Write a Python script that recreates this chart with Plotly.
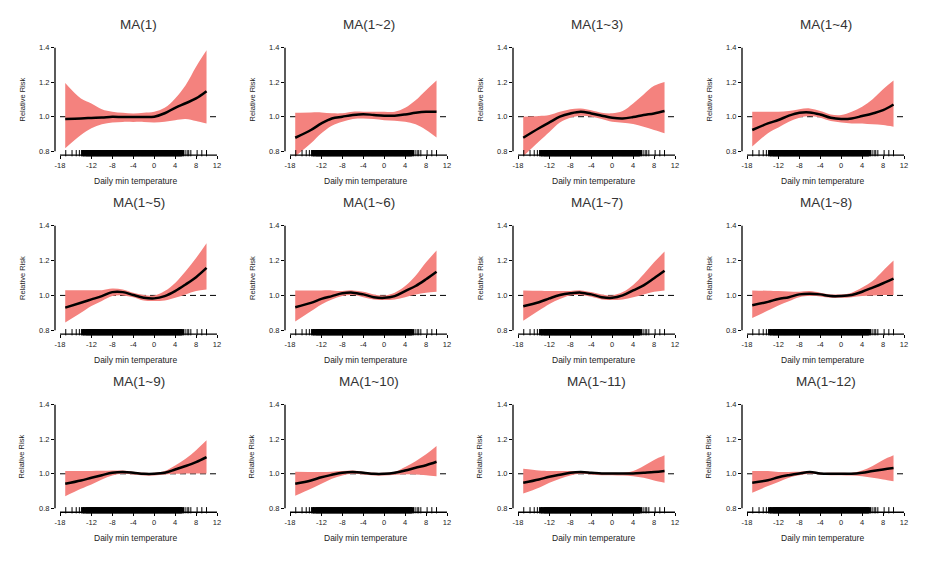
import plotly.graph_objects as go

# ---------------- data ----------------
TEMP = [-17, -14, -12, -10, -8, -6, -4, -2, 0, 2, 4, 6, 8, 10]

TITLES = ["MA(1)", "MA(1~2)", "MA(1~3)", "MA(1~4)",
          "MA(1~5)", "MA(1~6)", "MA(1~7)", "MA(1~8)",
          "MA(1~9)", "MA(1~10)", "MA(1~11)", "MA(1~12)"]

X_TICKS = [-18, -12, -8, -4, 0, 4, 8, 12]
X_TICK_TEXT = ["-18", "-12", "-8", "-4", "0", "4", "8", "12"]
Y_TICKS = [0.8, 1.0, 1.2, 1.4]
Y_TICK_TEXT = ["0.8", "1.0", "1.2", "1.4"]

rr_ma1 = [0.987, 0.990, 0.993, 0.995, 1.000, 0.998, 0.998, 0.998, 1.000, 1.020, 1.052, 1.078, 1.106, 1.148]
hi_ma1 = [1.196, 1.106, 1.077, 1.044, 1.029, 1.023, 1.019, 1.023, 1.029, 1.052, 1.106, 1.183, 1.290, 1.385]
lo_ma1 = [0.817, 0.894, 0.933, 0.956, 0.967, 0.970, 0.970, 0.970, 0.967, 0.971, 0.980, 0.987, 0.975, 0.960]

rr_ma2 = [0.878, 0.923, 0.961, 0.990, 1.000, 1.010, 1.015, 1.010, 1.006, 1.006, 1.013, 1.023, 1.029, 1.029]
hi_ma2 = [1.023, 1.025, 1.025, 1.020, 1.020, 1.029, 1.029, 1.029, 1.029, 1.029, 1.052, 1.096, 1.154, 1.210]
lo_ma2 = [0.770, 0.846, 0.904, 0.948, 0.971, 0.987, 0.990, 0.987, 0.980, 0.977, 0.971, 0.956, 0.923, 0.879]

rr_ma3 = [0.878, 0.933, 0.967, 1.000, 1.019, 1.029, 1.019, 1.006, 0.994, 0.990, 0.998, 1.010, 1.019, 1.033]
hi_ma3 = [1.000, 1.004, 1.010, 1.029, 1.044, 1.048, 1.038, 1.023, 1.020, 1.033, 1.077, 1.129, 1.179, 1.202]
lo_ma3 = [0.770, 0.856, 0.912, 0.967, 0.994, 1.006, 1.000, 0.987, 0.971, 0.965, 0.958, 0.942, 0.923, 0.904]

rr_ma4 = [0.923, 0.961, 0.981, 1.006, 1.023, 1.025, 1.013, 0.994, 0.987, 0.990, 1.004, 1.019, 1.038, 1.071]
hi_ma4 = [1.029, 1.029, 1.029, 1.033, 1.044, 1.048, 1.033, 1.013, 1.010, 1.029, 1.058, 1.102, 1.160, 1.210]
lo_ma4 = [0.827, 0.904, 0.937, 0.971, 0.994, 1.004, 0.994, 0.975, 0.967, 0.961, 0.961, 0.956, 0.952, 0.942]

rr_ma5 = [0.930, 0.958, 0.977, 0.996, 1.019, 1.019, 1.002, 0.987, 0.983, 0.996, 1.025, 1.063, 1.105, 1.158]
hi_ma5 = [1.030, 1.030, 1.030, 1.030, 1.040, 1.034, 1.015, 1.002, 1.000, 1.025, 1.072, 1.139, 1.215, 1.300]
lo_ma5 = [0.844, 0.900, 0.939, 0.968, 0.996, 1.000, 0.990, 0.971, 0.968, 0.971, 0.987, 1.006, 1.025, 1.034]

rr_ma6 = [0.932, 0.957, 0.980, 0.996, 1.012, 1.016, 1.006, 0.990, 0.986, 0.996, 1.025, 1.054, 1.093, 1.136]
hi_ma6 = [1.029, 1.029, 1.029, 1.029, 1.025, 1.029, 1.021, 1.006, 1.000, 1.016, 1.054, 1.113, 1.190, 1.258]
lo_ma6 = [0.850, 0.909, 0.948, 0.977, 0.996, 1.002, 0.990, 0.977, 0.973, 0.977, 0.990, 1.006, 1.016, 1.021]

rr_ma7 = [0.938, 0.961, 0.983, 1.002, 1.012, 1.016, 1.006, 0.990, 0.986, 1.000, 1.029, 1.058, 1.099, 1.142]
hi_ma7 = [1.029, 1.027, 1.025, 1.025, 1.025, 1.029, 1.019, 1.006, 1.000, 1.019, 1.060, 1.122, 1.190, 1.252]
lo_ma7 = [0.854, 0.913, 0.951, 0.980, 1.000, 1.002, 0.992, 0.977, 0.973, 0.977, 0.990, 1.006, 1.021, 1.029]

rr_ma8 = [0.944, 0.963, 0.980, 0.990, 1.006, 1.010, 1.006, 0.996, 0.996, 1.002, 1.021, 1.045, 1.070, 1.097]
hi_ma8 = [1.029, 1.027, 1.025, 1.023, 1.021, 1.025, 1.016, 1.006, 1.006, 1.016, 1.045, 1.083, 1.142, 1.200]
lo_ma8 = [0.870, 0.913, 0.942, 0.967, 0.990, 0.996, 0.994, 0.986, 0.986, 0.990, 0.996, 1.000, 1.002, 1.002]

rr_ma9 = [0.942, 0.961, 0.977, 0.992, 1.006, 1.010, 1.006, 1.000, 1.000, 1.006, 1.025, 1.045, 1.068, 1.097]
hi_ma9 = [1.016, 1.016, 1.016, 1.017, 1.019, 1.019, 1.012, 1.006, 1.006, 1.016, 1.048, 1.087, 1.137, 1.194]
lo_ma9 = [0.870, 0.913, 0.938, 0.967, 0.990, 1.000, 0.996, 0.990, 0.990, 0.996, 1.000, 1.002, 1.002, 1.002]

rr_ma10 = [0.942, 0.961, 0.980, 0.994, 1.006, 1.010, 1.006, 1.000, 1.000, 1.006, 1.019, 1.035, 1.050, 1.070]
hi_ma10 = [1.012, 1.011, 1.010, 1.012, 1.016, 1.019, 1.012, 1.006, 1.006, 1.012, 1.040, 1.073, 1.113, 1.161]
lo_ma10 = [0.873, 0.913, 0.942, 0.971, 0.990, 1.000, 0.996, 0.990, 0.990, 0.994, 0.998, 0.996, 0.992, 0.986]

rr_ma11 = [0.948, 0.967, 0.983, 0.994, 1.006, 1.010, 1.006, 1.002, 1.002, 1.002, 1.002, 1.006, 1.010, 1.016]
hi_ma11 = [1.029, 1.019, 1.016, 1.016, 1.016, 1.016, 1.010, 1.006, 1.006, 1.006, 1.016, 1.045, 1.080, 1.107]
lo_ma11 = [0.885, 0.919, 0.948, 0.971, 0.990, 1.000, 0.996, 0.992, 0.992, 0.990, 0.986, 0.977, 0.961, 0.948]

rr_ma12 = [0.948, 0.963, 0.980, 0.992, 1.002, 1.010, 1.002, 1.000, 1.000, 1.000, 1.006, 1.016, 1.025, 1.033]
hi_ma12 = [1.016, 1.016, 1.010, 1.011, 1.012, 1.016, 1.006, 1.006, 1.006, 1.006, 1.019, 1.045, 1.080, 1.107]
lo_ma12 = [0.890, 0.929, 0.952, 0.977, 0.992, 1.000, 0.996, 0.992, 0.992, 0.990, 0.986, 0.977, 0.967, 0.957]

# observed daily minimum temperatures (rug)
RUG = [-16.9, -15.7, -14.9, -14.3, -13.9,
       -13.6, -13.4, -13.1, -12.9, -12.7, -12.5, -12.3, -12.1, -11.9, -11.7, -11.5, -11.3,
       -11.1, -10.9, -10.7, -10.5, -10.3, -10.1, -9.9, -9.7, -9.5, -9.3, -9.1, -8.9, -8.7,
       -8.5, -8.3, -8.1, -7.9, -7.7, -7.5, -7.3, -7.1, -6.9, -6.7, -6.5, -6.3, -6.1, -5.9,
       -5.7, -5.5, -5.3, -5.1, -4.9, -4.7, -4.5, -4.3, -4.1, -3.9, -3.7, -3.5, -3.3, -3.1,
       -2.9, -2.7, -2.5, -2.3, -2.1, -1.9, -1.7, -1.5, -1.3, -1.1, -0.9, -0.7, -0.5, -0.3,
       -0.1, 0.1, 0.3, 0.5, 0.7, 0.9, 1.1, 1.3, 1.5, 1.7, 1.9, 2.1, 2.3, 2.5, 2.7, 2.9, 3.1,
       3.3, 3.5, 3.7, 3.9, 4.1, 4.3, 4.5, 4.7, 4.9, 5.1, 5.3,
       5.6, 5.9, 6.3, 6.6, 7.0, 8.2, 9.1, 10.0]

RR = [rr_ma1, rr_ma2, rr_ma3, rr_ma4, rr_ma5, rr_ma6, rr_ma7, rr_ma8, rr_ma9, rr_ma10, rr_ma11, rr_ma12]
HI = [hi_ma1, hi_ma2, hi_ma3, hi_ma4, hi_ma5, hi_ma6, hi_ma7, hi_ma8, hi_ma9, hi_ma10, hi_ma11, hi_ma12]
LO = [lo_ma1, lo_ma2, lo_ma3, lo_ma4, lo_ma5, lo_ma6, lo_ma7, lo_ma8, lo_ma9, lo_ma10, lo_ma11, lo_ma12]

# ---------------- layout geometry (pixels) ----------------
W, H = 945, 561
COL_X18 = [60, 290, 518, 747]      # pixel of x = -18
SPAN_X = 157                        # pixels from -18 to 12
ROW_Y14 = [46, 225, 405]            # pixel of y = 1.4
ROW_Y08 = [150, 330, 509]           # pixel of y = 0.8

BAND = "#F4827E"
FONT = "Liberation Sans, Arial, sans-serif"

# thicker strokes where rug ticks are packed so they merge into a solid bar
rug_widths = [2.4 if -13.7 < v < 5.4 else 1.0 for v in RUG]

fig = go.Figure()
layout = dict(width=W, height=H, margin=dict(l=0, r=0, t=0, b=0),
              paper_bgcolor="white", plot_bgcolor="white", showlegend=False)
shapes, annotations = [], []

for i in range(12):
    r, c = divmod(i, 4)
    sfx = "" if i == 0 else str(i + 1)
    xa, ya = "x" + sfx, "y" + sfx
    x18 = COL_X18[c]
    ppd = SPAN_X / 30.0
    y14, y08 = ROW_Y14[r], ROW_Y08[r]
    ppu = (y08 - y14) / 0.6

    xdom = [(x18 - 5) / W, (x18 + SPAN_X + 5) / W]
    ydom = [1 - (y08 + 4) / H, 1 - (y14 - 2) / H]

    layout["xaxis" + sfx] = dict(
        domain=xdom, range=[-18 - 5 / ppd, 12 + 5 / ppd], anchor=ya,
        showgrid=False, zeroline=False, showline=False,
        tickmode="array", tickvals=X_TICKS, ticktext=X_TICK_TEXT,
        ticks="outside", ticklen=3, tickwidth=1, tickcolor="black",
        tickfont=dict(family=FONT, size=7.5, color="#222"), fixedrange=True)
    layout["yaxis" + sfx] = dict(
        domain=ydom, range=[0.8 - 4 / ppu, 1.4 + 2 / ppu], anchor=xa,
        showgrid=False, zeroline=False, showline=False,
        tickmode="array", tickvals=Y_TICKS, ticktext=Y_TICK_TEXT,
        ticks="outside", ticklen=3, tickwidth=1, tickcolor="black",
        tickfont=dict(family=FONT, size=7.5, color="#222"), fixedrange=True)

    # reference line at RR = 1 (underneath the band)
    fig.add_trace(go.Scatter(x=[-18, 12], y=[1.0, 1.0], mode="lines",
                             line=dict(color="black", width=1, dash="6px,4px"),
                             xaxis=xa, yaxis=ya, hoverinfo="skip"))
    # confidence band
    fig.add_trace(go.Scatter(x=TEMP, y=LO[i], mode="lines", line=dict(width=0, shape="spline"),
                             xaxis=xa, yaxis=ya, hoverinfo="skip"))
    fig.add_trace(go.Scatter(x=TEMP, y=HI[i], mode="lines", line=dict(width=0, shape="spline"),
                             fill="tonexty", fillcolor=BAND, xaxis=xa, yaxis=ya, hoverinfo="skip"))
    # estimate
    fig.add_trace(go.Scatter(x=TEMP, y=RR[i], mode="lines",
                             line=dict(color="black", width=2.5, shape="spline"),
                             xaxis=xa, yaxis=ya))
    # rug
    fig.add_trace(go.Scatter(x=RUG, y=[0.8 - 2 / ppu] * len(RUG), mode="markers",
                             marker=dict(symbol="line-ns", size=4.5,
                                         line=dict(width=rug_widths, color="black")),
                             cliponaxis=False, xaxis=xa, yaxis=ya, hoverinfo="skip"))

    # axis lines (R style: from first to last tick)
    shapes.append(dict(type="line", xref=xa + " domain", yref=ya, x0=0, x1=0, y0=0.8, y1=1.4,
                       line=dict(color="black", width=1.3)))
    shapes.append(dict(type="line", xref=xa, yref=ya + " domain", x0=-18, x1=12, y0=0, y1=0,
                       line=dict(color="black", width=1.3)))

    cx = (x18 + SPAN_X / 2) / W
    annotations.append(dict(text=TITLES[i], x=cx, y=1 - (y14 - 23) / H, xref="paper", yref="paper",
                            showarrow=False, xanchor="center", yanchor="middle",
                            font=dict(family=FONT, size=13.5, color="#333")))
    annotations.append(dict(text="Relative Risk", x=(x18 - 38) / W, y=1 - ((y14 + y08) / 2) / H,
                            xref="paper", yref="paper", showarrow=False, textangle=-90,
                            xanchor="center", yanchor="middle",
                            font=dict(family=FONT, size=7.5, color="#222")))
    annotations.append(dict(text="Daily min temperature", x=cx - 3 / W, y=1 - (y08 + 30) / H,
                            xref="paper", yref="paper", showarrow=False,
                            xanchor="center", yanchor="middle",
                            font=dict(family=FONT, size=8.5, color="#222")))

layout["shapes"] = shapes
layout["annotations"] = annotations
fig.update_layout(**layout)
fig.write_html("out.html", config={"displayModeBar": False},
               post_script="document.body.style.margin='0';")
